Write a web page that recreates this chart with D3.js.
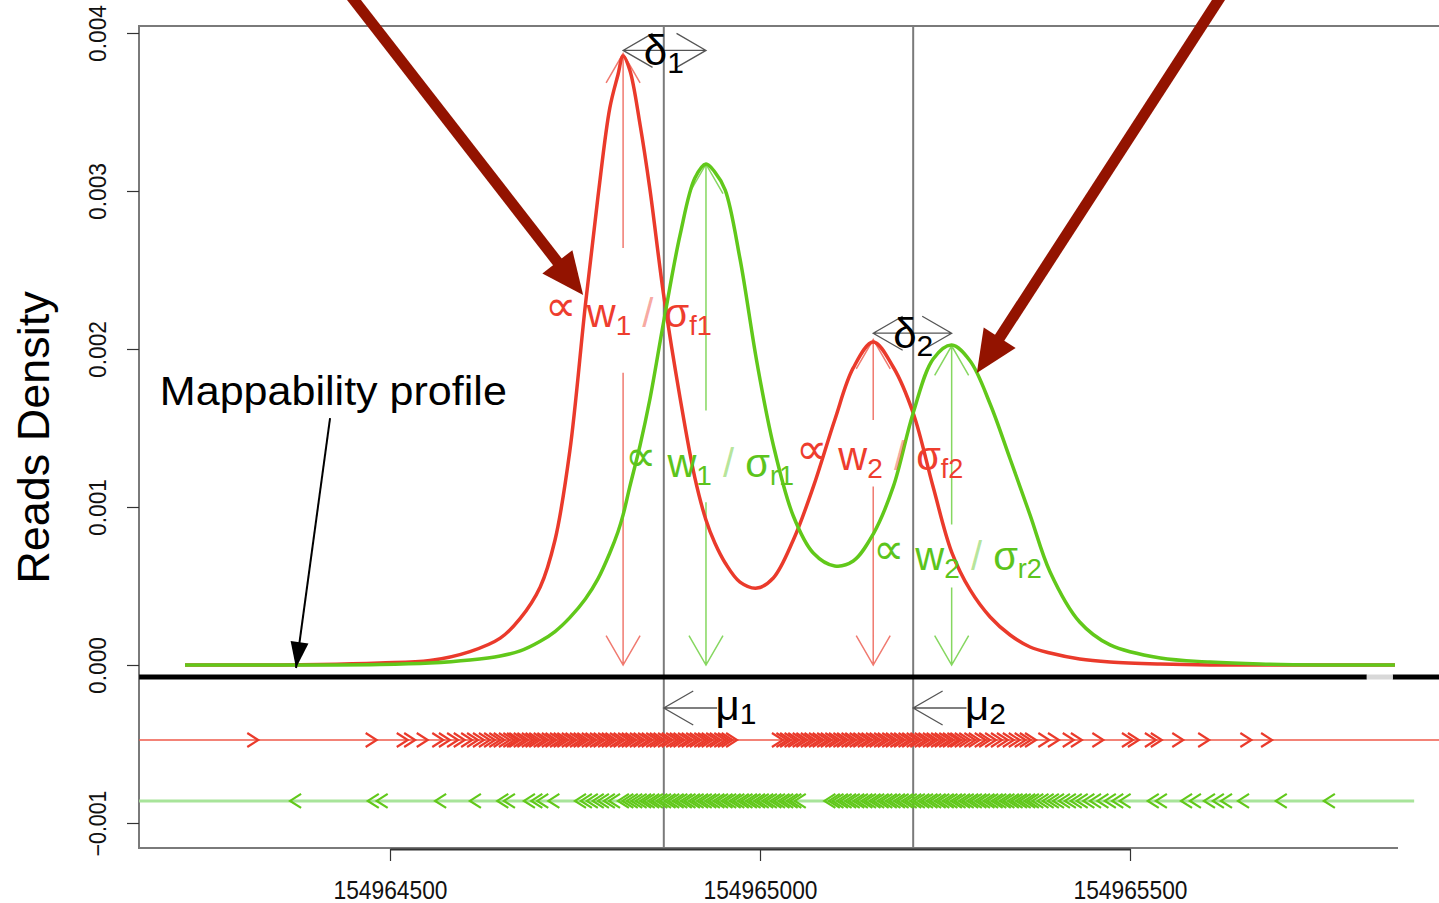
<!DOCTYPE html>
<html>
<head>
<meta charset="utf-8">
<script src="https://cdn.jsdelivr.net/npm/d3@7"></script>
<style>
  body { margin: 0; background: #fff; }
  svg { display: block; font-family: "Liberation Sans", Arial, Helvetica, sans-serif; }
</style>
</head>
<body>
<div id="container"></div>
<script>

/* DATA */
// genomic positions are stored as offsets from base
const base = 154964000
const xTicks = [154964500, 154965000, 154965500]
const yTicks = [-0.001, 0, 0.001, 0.002, 0.003, 0.004]

const curvePos = [223, 311, 405, 486, 554, 608, 649, 676, 703, 723,
  743, 764, 781, 797, 808, 815, 824, 838, 851, 870,
  892, 912, 927, 939, 953, 973, 996, 1018, 1045, 1072,
  1101, 1126, 1153, 1180, 1207, 1234, 1259, 1284, 1311, 1338,
  1365, 1392, 1432, 1473, 1541, 1608, 1676, 1757, 1858]

// forward strand density (red)
const fwdDensity = [0, 0, 0.0032e-3, 0.0127e-3, 0.0285e-3, 0.085e-3, 0.170e-3, 0.295e-3, 0.494e-3, 0.791e-3,
  1.354e-3, 2.278e-3, 2.962e-3, 3.525e-3, 3.734e-3, 3.854e-3, 3.766e-3, 3.418e-3, 3.019e-3, 2.335e-3,
  1.690e-3, 1.184e-3, 0.918e-3, 0.772e-3, 0.646e-3, 0.525e-3, 0.487e-3, 0.551e-3, 0.791e-3, 1.127e-3,
  1.551e-3, 1.880e-3, 2.044e-3, 1.886e-3, 1.595e-3, 1.127e-3, 0.715e-3, 0.475e-3, 0.304e-3, 0.190e-3,
  0.114e-3, 0.076e-3, 0.038e-3, 0.019e-3, 0.006e-3, 0, 0, 0, 0]

// reverse strand density (green)
const revDensity = [0, 0, 0, 0.003e-3, 0.013e-3, 0.032e-3, 0.057e-3, 0.089e-3, 0.150e-3, 0.212e-3,
  0.300e-3, 0.418e-3, 0.545e-3, 0.709e-3, 0.842e-3, 0.950e-3, 1.127e-3, 1.392e-3, 1.677e-3, 2.177e-3,
  2.722e-3, 3.082e-3, 3.171e-3, 3.120e-3, 3.006e-3, 2.570e-3, 1.911e-3, 1.392e-3, 0.943e-3, 0.709e-3,
  0.627e-3, 0.658e-3, 0.829e-3, 1.127e-3, 1.595e-3, 1.937e-3, 2.025e-3, 1.924e-3, 1.652e-3, 1.304e-3,
  0.949e-3, 0.589e-3, 0.272e-3, 0.127e-3, 0.044e-3, 0.019e-3, 0.006e-3, 0, 0]

// event centres and strand peaks
const muPos = [870, 1207]
const muNames = ["1", "2"]
const fwdPeakPos = [815, 1153]
const fwdPeakHeight = [3.87e-3, 2.06e-3]
const revPeakPos = [927, 1259]
const revPeakHeight = [3.17e-3, 2.02e-3]

// read start positions
const fwdReads = [322, 482, 524, 534, 551, 572, 581, 592, 601, 611, 619, 627, 635, 642, 649, 655, 662, 668, 673,
  676, 682, 687, 693, 698, 703, 709, 714, 720, 725, 731, 736, 741, 747, 752, 758, 763, 768, 774, 779,
  785, 790, 796, 801, 806, 812, 817, 823, 828, 833, 839, 844, 850, 855, 861, 866, 871, 877, 882, 888,
  893, 898, 904, 909, 915, 920, 926, 931, 936, 942, 947, 953, 958, 963, 969,
  1031, 1037, 1042, 1048, 1053, 1059, 1064, 1070, 1075, 1081, 1086, 1092, 1097, 1103, 1108, 1114, 1119,
  1125, 1130, 1136, 1141, 1147, 1152, 1158, 1163, 1169, 1174, 1180, 1185, 1191, 1196, 1202, 1207, 1213,
  1218, 1224, 1229, 1235, 1240, 1246, 1251, 1257, 1262, 1268, 1272,
  1278, 1284, 1291, 1297, 1305, 1311, 1319, 1327, 1335, 1343, 1351, 1359, 1366, 1373,
  1391, 1404, 1424, 1435, 1464, 1504, 1512, 1535, 1543, 1572, 1607, 1664, 1692]

const revReads = [365, 470, 482, 561, 608, 645, 654, 681, 691, 699, 714, 750, 758, 766, 774, 781, 789, 796,
  808, 814, 820, 826, 832, 838,
  843, 849, 854, 860, 865, 871, 876, 882, 887, 893, 898, 904, 909, 915, 920, 926, 931, 937, 942, 948,
  953, 959, 964, 970, 975, 981, 986, 992, 997, 1003, 1008, 1014, 1019, 1025, 1030, 1036, 1041, 1047,
  1087, 1093, 1098, 1104, 1109, 1115, 1120, 1126, 1131, 1137, 1142, 1148, 1153, 1159, 1164, 1170, 1175,
  1181, 1186, 1192, 1197, 1203, 1208, 1214, 1219, 1225, 1230, 1236, 1241, 1247, 1252, 1258, 1263, 1269,
  1274, 1280, 1285, 1291, 1296, 1302, 1307, 1313, 1318, 1324, 1329, 1335, 1340, 1346, 1351, 1357, 1362, 1368,
  1375, 1382, 1389, 1396, 1404, 1412, 1420, 1428, 1437, 1446, 1456, 1466, 1476, 1486,
  1524, 1535, 1569, 1581, 1600, 1612, 1623, 1646, 1697, 1762]

// read tracks and mappability profile (density units)
const fwdTrackLevel = -0.475e-3
const revTrackLevel = -0.86e-3
const trackStart = 161, fwdTrackEnd = 1925, revTrackEnd = 1884
const mappabilityLevel = -0.076e-3
const mappableSegments = [[161, 1820], [1855, 1925]]
const unmappableSegments = [[1820, 1855]]

/* LAYOUT */
const width = 1439, height = 903
const frame = {left: 139, top: 26, bottom: 848, right: 1398}
const red = "#ea3a2b", green = "#61c81a", darkRed = "#931300", gray = "#7a7a7a"

const x = d3.scaleLinear().domain([154964500, 154965500]).range([390, 1130])
const y = d3.scaleLinear().domain([-0.001, 0.004]).range([823, 33])
const X = off => x(base + off)

const svg = d3.select("#container")
  .append("svg")
  .attr("width", width)
  .attr("height", height)

// open "V" head at tip (tx,ty) travelling in direction (dx,dy)
const vHead = (tx, ty, dx, dy, L) => {
  const a = Math.atan2(dy, dx), s = Math.PI / 6
  return `M${tx - L * Math.cos(a - s)},${ty - L * Math.sin(a - s)}L${tx},${ty}L${tx - L * Math.cos(a + s)},${ty - L * Math.sin(a + s)}`
}
const filledHead = (tx, ty, dx, dy, L, w) => {
  const a = Math.atan2(dy, dx)
  const bx = tx - L * Math.cos(a), by = ty - L * Math.sin(a)
  const nx = -Math.sin(a) * w, ny = Math.cos(a) * w
  return `M${tx},${ty}L${bx + nx},${by + ny}L${bx - nx},${by - ny}Z`
}

/* FRAME + AXES */
svg.append("path")
  .attr("d", `M${width},${frame.top}H${frame.left}V${frame.bottom}H${frame.right}`)
  .attr("fill", "none").attr("stroke", gray).attr("stroke-width", 2)

const xAxis = d3.axisBottom(x).tickValues(xTicks).tickSize(12).tickSizeOuter(0).tickPadding(20)
  .tickFormat(d3.format("d"))
const gx = svg.append("g")
  .attr("transform", `translate(0, ${frame.bottom + 1})`)
  .call(xAxis)
gx.select(".domain").attr("stroke", "#333").attr("stroke-width", 2)
gx.selectAll(".tick line").attr("stroke", "#333").attr("stroke-width", 1.2)
gx.selectAll("text")
  .attr("fill", "#111")
  .style("font-size", "25px")
  .style("font-family", "Liberation Sans, Arial, sans-serif")
  .attr("textLength", 114).attr("lengthAdjust", "spacingAndGlyphs")

const yAxis = d3.axisLeft(y).tickValues(yTicks).tickSize(12).tickSizeOuter(0)
  .tickFormat(d3.format(".3f"))
const gy = svg.append("g")
  .attr("transform", `translate(${frame.left}, 0)`)
  .call(yAxis)
gy.select(".domain").remove()
gy.selectAll(".tick line").attr("stroke", "#333").attr("stroke-width", 1.2)
gy.selectAll("text")
  .attr("transform", "rotate(-90)")
  .attr("x", 0).attr("y", -33).attr("dy", 0)
  .attr("text-anchor", "middle")
  .attr("fill", "#111")
  .style("font-size", "24px")
  .style("font-family", "Liberation Sans, Arial, sans-serif")
  .attr("textLength", d => d < 0 ? 66 : 57).attr("lengthAdjust", "spacingAndGlyphs")

svg.append("text")
  .attr("transform", `translate(49, ${y(0.00144)}) rotate(-90)`)
  .attr("text-anchor", "middle")
  .style("font-size", "45px")
  .attr("fill", "#000")
  .text("Reads Density")

/* EVENT CENTRES */
svg.selectAll(".mu-line")
  .data(muPos)
  .join("line")
  .attr("class", "mu-line")
  .attr("x1", d => X(d)).attr("x2", d => X(d))
  .attr("y1", frame.top).attr("y2", frame.bottom)
  .attr("stroke", gray).attr("stroke-width", 2)

/* PEAK HEIGHT ARROWS (with a gap where the label sits) */
const ampArrows = [
  {pos: fwdPeakPos[0], h: fwdPeakHeight[0], gap: [2.64e-3, 1.85e-3], col: "#f07a70"},
  {pos: revPeakPos[0], h: revPeakHeight[0], gap: [1.61e-3, 1.03e-3], col: "#86d760"},
  {pos: fwdPeakPos[1], h: fwdPeakHeight[1], gap: [1.55e-3, 1.13e-3], col: "#f07a70"},
  {pos: revPeakPos[1], h: revPeakHeight[1], gap: [0.89e-3, 0.49e-3], col: "#86d760"}
]
svg.selectAll(".amp").data(ampArrows).join("path")
  .attr("class", "amp")
  .attr("d", d => {
    const px = X(d.pos)
    return `M${px},${y(d.h)}V${y(d.gap[0])}M${px},${y(d.gap[1])}V${y(0)}` +
      vHead(px, y(d.h), 0, -1, 34) + vHead(px, y(0), 0, 1, 34)
  })
  .attr("fill", "none").attr("stroke", d => d.col).attr("stroke-width", 1.5)

/* DENSITY CURVES */
const line = d3.line()
  .x((d, i) => X(curvePos[i]))
  .y(d => y(d))
  .curve(d3.curveCatmullRom.alpha(0.5))

svg.append("path").datum(fwdDensity)
  .attr("d", line).attr("fill", "none").attr("stroke", red).attr("stroke-width", 3.5)
svg.append("path").datum(revDensity)
  .attr("d", line).attr("fill", "none").attr("stroke", green).attr("stroke-width", 3.5)

/* WEIGHT LABELS */
const weightLabels = [
  {pos: 709, lvl: 2.14e-3, w: "1", s: "f1", col: "#ee3d2e"},
  {pos: 818, lvl: 1.19e-3, w: "1", s: "r1", col: "#5cc41c"},
  {pos: 1049, lvl: 1.234e-3, w: "2", s: "f2", col: "#ee3d2e"},
  {pos: 1153, lvl: 0.60e-3, w: "2", s: "r2", col: "#5cc41c"}
]
weightLabels.forEach(l => {
  const t = svg.append("text")
    .attr("x", X(l.pos)).attr("y", y(l.lvl))
    .attr("fill", l.col)
    .style("font-size", "40px")
  t.append("tspan").style("font-size", "44px").attr("dy", -6).text("\u221D")
  t.append("tspan").attr("dy", 6).text(" w")
  t.append("tspan").attr("dy", 8).style("font-size", "28px").text(l.w)
  t.append("tspan").attr("dy", -8).attr("fill-opacity", 0.45).text(" / ")
  t.append("tspan").text("\u03C3")
  t.append("tspan").attr("dy", 8).style("font-size", "27px").text(l.s)
})

/* DELTA ARROWS between strand peaks */
const deltaArrows = [
  {from: fwdPeakPos[0], to: revPeakPos[0], lvl: 3.89e-3, text: "1", mu: muPos[0]},
  {from: fwdPeakPos[1], to: revPeakPos[1], lvl: 2.10e-3, text: "2", mu: muPos[1]}
]
deltaArrows.forEach(d => {
  const x1 = X(d.from), x2 = X(d.to), py = y(d.lvl)
  svg.append("path")
    .attr("d", `M${x1},${py}H${x2}` + vHead(x1, py, -1, 0, 34) + vHead(x2, py, 1, 0, 34))
    .attr("fill", "none").attr("stroke", "#555").attr("stroke-width", 1.3)
  const t = svg.append("text")
    .attr("x", X(d.mu)).attr("y", py + 15)
    .attr("text-anchor", "middle")
    .style("font-size", "42px").attr("fill", "#000")
  t.append("tspan").text("\u03B4")
  t.append("tspan").attr("dy", 8).style("font-size", "30px").text(d.text)
})

/* MAPPABILITY PROFILE */
svg.selectAll(".map").data(mappableSegments).join("line")
  .attr("class", "map")
  .attr("x1", d => X(d[0])).attr("x2", d => X(d[1]))
  .attr("y1", y(mappabilityLevel)).attr("y2", y(mappabilityLevel))
  .attr("stroke", "#000").attr("stroke-width", 5)
svg.selectAll(".unmap").data(unmappableSegments).join("line")
  .attr("class", "unmap")
  .attr("x1", d => X(d[0])).attr("x2", d => X(d[1]))
  .attr("y1", y(mappabilityLevel)).attr("y2", y(mappabilityLevel))
  .attr("stroke", "#d8d8d8").attr("stroke-width", 5)

/* MU ARROWS */
muPos.forEach((m, i) => {
  const px = X(m), py = y(-0.272e-3)
  svg.append("path")
    .attr("d", `M${px},${py}H${X(m + 72)}` + vHead(px, py, -1, 0, 34))
    .attr("fill", "none").attr("stroke", "#555").attr("stroke-width", 1.3)
  const t = svg.append("text")
    .attr("x", X(m + 70)).attr("y", py + 12)
    .style("font-size", "42px").attr("fill", "#000")
  t.append("tspan").text("\u03BC")
  t.append("tspan").attr("dy", 4).style("font-size", "30px").text(muNames[i])
})

/* READS */
const fy = y(fwdTrackLevel), ry = y(revTrackLevel)
svg.append("line")
  .attr("x1", X(trackStart)).attr("x2", X(fwdTrackEnd))
  .attr("y1", fy).attr("y2", fy)
  .attr("stroke", "#ef5a4a").attr("stroke-width", 1.5)
svg.append("line")
  .attr("x1", X(trackStart)).attr("x2", X(revTrackEnd))
  .attr("y1", ry).attr("y2", ry)
  .attr("stroke", "#a8e49a").attr("stroke-width", 3)

svg.selectAll(".fread").data(fwdReads).join("path")
  .attr("class", "fread")
  .attr("d", d => `M${X(d) - 11},${fy - 7}L${X(d)},${fy}L${X(d) - 11},${fy + 7}`)
  .attr("fill", "none").attr("stroke", red).attr("stroke-width", 2.2)
svg.selectAll(".rread").data(revReads).join("path")
  .attr("class", "rread")
  .attr("d", d => `M${X(d) + 11},${ry - 7}L${X(d)},${ry}L${X(d) + 11},${ry + 7}`)
  .attr("fill", "none").attr("stroke", green).attr("stroke-width", 2.2)

/* ANNOTATIONS */
svg.append("text")
  .attr("x", X(189)).attr("y", y(1.646e-3))
  .style("font-size", "40px").attr("fill", "#000")
  .attr("textLength", 347).attr("lengthAdjust", "spacingAndGlyphs")
  .text("Mappability profile")

const mapArrow = {from: [419, 1.563e-3], to: [373, -0.019e-3]}
{
  const x1 = X(mapArrow.from[0]), y1 = y(mapArrow.from[1])
  const x2 = X(mapArrow.to[0]), y2 = y(mapArrow.to[1])
  svg.append("line").attr("x1", x1).attr("y1", y1).attr("x2", x2).attr("y2", y2)
    .attr("stroke", "#000").attr("stroke-width", 2)
  svg.append("path").attr("d", filledHead(x2, y2, x2 - x1, y2 - y1, 26, 9)).attr("fill", "#000")
}

const bigArrows = [
  {from: [446, 4.241e-3], to: [761, 2.342e-3]},
  {from: [1624, 4.241e-3], to: [1293, 1.848e-3]}
]
bigArrows.forEach(a => {
  const x1 = X(a.from[0]), y1 = y(a.from[1])
  const x2 = X(a.to[0]), y2 = y(a.to[1])
  const ang = Math.atan2(y2 - y1, x2 - x1)
  svg.append("line")
    .attr("x1", x1).attr("y1", y1)
    .attr("x2", x2 - 36 * Math.cos(ang)).attr("y2", y2 - 36 * Math.sin(ang))
    .attr("stroke", darkRed).attr("stroke-width", 11)
  svg.append("path").attr("d", filledHead(x2, y2, x2 - x1, y2 - y1, 42, 19)).attr("fill", darkRed)
})

</script>
</body>
</html>
